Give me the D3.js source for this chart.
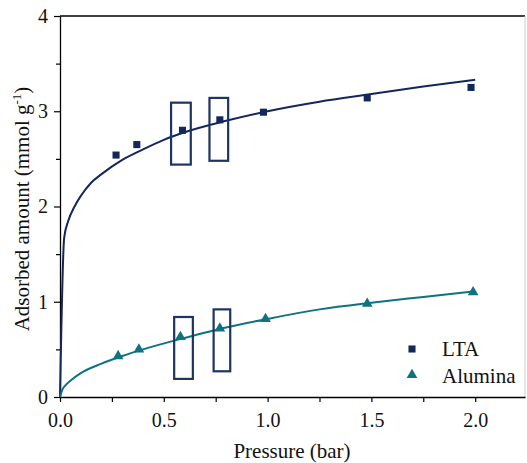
<!DOCTYPE html>
<html>
<head>
<meta charset="utf-8">
<script src="https://cdn.jsdelivr.net/npm/d3@7"></script>
<style>
  body { margin: 0; background: #fff; }
</style>
</head>
<body>
<div id="chart"></div>
<script>
// measured points
const pressure = [0.27, 0.37, 0.59, 0.77, 0.98, 1.48, 1.98];
const ltaVals = [2.54, 2.65, 2.80, 2.91, 2.99, 3.14, 3.25];
const aluPressure = [0.28, 0.38, 0.58, 0.77, 0.99, 1.48, 1.99];
const aluVals = [0.43, 0.50, 0.63, 0.72, 0.82, 0.98, 1.10];

// fitted curves
const ltaFitP = [0, 0.02, 0.04, 0.07, 0.1, 0.15, 0.2, 0.3, 0.4, 0.5, 0.6, 0.8, 1.0, 1.25, 1.5, 1.75, 2.0];
const ltaFitQ = [0, 1.67, 1.85, 2.0, 2.11, 2.25, 2.34, 2.49, 2.6, 2.7, 2.78, 2.9, 3.0, 3.1, 3.18, 3.26, 3.33];
const aluFitP = [0, 0.01, 0.025, 0.05, 0.1, 0.2, 0.3, 0.4, 0.6, 0.8, 1.0, 1.25, 1.5, 1.75, 2.0];
const aluFitQ = [0, 0.07, 0.12, 0.17, 0.25, 0.35, 0.43, 0.5, 0.62, 0.73, 0.82, 0.92, 0.99, 1.05, 1.11];

// highlight boxes [x0, x1, y0, y1]
const boxes = [
  [0.535, 0.63, 2.44, 3.09],
  [0.72, 0.81, 2.48, 3.14],
  [0.55, 0.64, 0.19, 0.84],
  [0.74, 0.82, 0.27, 0.92]
];

const xTicks = [0, 0.5, 1.0, 1.5, 2.0];
const yTicks = [0, 1, 2, 3, 4];

const navy = "#13275a";
const teal = "#0e7282";
const serif = '"Liberation Serif"';

const W = 527, H = 463;
const svg = d3.select("#chart").append("svg").attr("width", W).attr("height", H);

const x = d3.scaleLinear().domain([0, 2.24]).range([60, 525]);
const y = d3.scaleLinear().domain([0, 4]).range([397, 16]);

function label(sel, size) {
  return sel.style("font-family", serif).style("font-size", size + "px").attr("fill", "#111");
}

// frame
svg.append("line").attr("x1", 60).attr("x2", 525).attr("y1", 16).attr("y2", 16)
  .attr("stroke", "#000").attr("stroke-width", 1.3);
svg.append("line").attr("x1", 525).attr("x2", 525).attr("y1", 16).attr("y2", 397)
  .attr("stroke", "#ccc").attr("stroke-width", 1);

// axes
const xAxis = svg.append("g").attr("transform", "translate(0,397)")
  .call(d3.axisBottom(x).tickValues(xTicks).tickFormat(d3.format(".1f")).tickSize(5).tickSizeOuter(0));
svg.append("g").attr("transform", "translate(0,397)")
  .call(d3.axisBottom(x).tickValues([0.25, 0.75, 1.25, 1.75]).tickFormat("").tickSize(5).tickSizeOuter(0))
  .select(".domain").remove();
const yAxis = svg.append("g").attr("transform", "translate(60,0)")
  .call(d3.axisLeft(y).tickValues(yTicks).tickFormat(d3.format("d")).tickSize(6).tickSizeOuter(0));
svg.append("g").attr("transform", "translate(60,0)")
  .call(d3.axisLeft(y).tickValues([0.5, 1.5, 2.5, 3.5]).tickFormat("").tickSize(4).tickSizeOuter(0))
  .select(".domain").remove();

svg.selectAll("g").attr("font-family", null).attr("font-size", null);
svg.selectAll(".domain").attr("stroke-width", 1.3);
label(xAxis.selectAll("text"), 20).attr("dy", "1.1em");
label(yAxis.selectAll("text"), 20).attr("x", -12);
svg.selectAll(".tick line").attr("stroke-width", 1.2);

// axis titles
label(svg.append("text"), 21).attr("x", 292).attr("y", 458).attr("text-anchor", "middle")
  .text("Pressure (bar)");
const yt = label(svg.append("text"), 21).attr("transform", "translate(29,209) rotate(-90)")
  .attr("text-anchor", "middle");
yt.append("tspan").text("Adsorbed amount (mmol g");
yt.append("tspan").attr("dy", -8).style("font-size", "13px").text("-1");
yt.append("tspan").attr("dy", 8).text(")");

// fit lines
const line = d3.line().x(d => x(d[0])).y(d => y(d[1])).curve(d3.curveMonotoneX);
svg.append("path").datum(d3.zip(ltaFitP, ltaFitQ)).attr("d", line)
  .attr("fill", "none").attr("stroke", navy).attr("stroke-width", 2);
svg.append("path").datum(d3.zip(aluFitP, aluFitQ)).attr("d", line)
  .attr("fill", "none").attr("stroke", teal).attr("stroke-width", 2);

// markers
const sq = d3.symbol().type(d3.symbolSquare).size(50);
const tri = d3.symbol().type(d3.symbolTriangle).size(50);
svg.append("g").selectAll("path").data(d3.zip(pressure, ltaVals)).join("path")
  .attr("d", sq).attr("transform", d => `translate(${x(d[0])},${y(d[1])})`).attr("fill", navy);
svg.append("g").selectAll("path").data(d3.zip(aluPressure, aluVals)).join("path")
  .attr("d", tri).attr("transform", d => `translate(${x(d[0])},${y(d[1])})`).attr("fill", teal);

// boxes
svg.append("g").selectAll("rect").data(boxes).join("rect")
  .attr("x", d => x(d[0])).attr("width", d => x(d[1]) - x(d[0]))
  .attr("y", d => y(d[3])).attr("height", d => y(d[2]) - y(d[3]))
  .attr("fill", "none").attr("stroke", "#1f3461").attr("stroke-width", 2.2);

// legend
const lg = svg.append("g");
lg.append("path").attr("d", sq).attr("transform", "translate(412,349)").attr("fill", navy);
label(lg.append("text"), 21).attr("x", 442).attr("y", 356).text("LTA");
lg.append("path").attr("d", tri).attr("transform", "translate(412,375)").attr("fill", teal);
label(lg.append("text"), 21).attr("x", 442).attr("y", 383).text("Alumina");
</script>
</body>
</html>
